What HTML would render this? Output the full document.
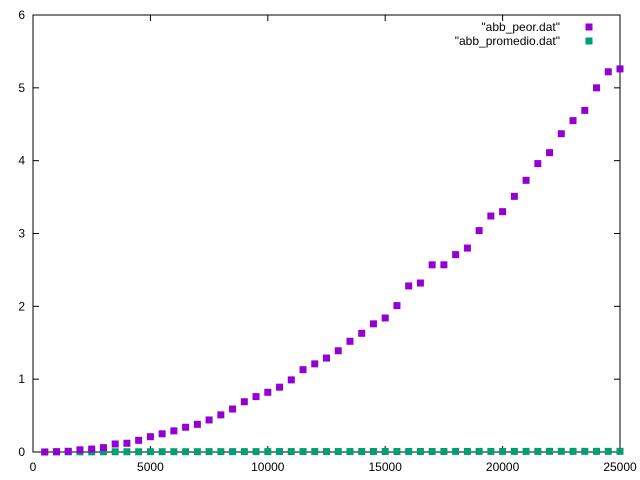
<!DOCTYPE html>
<html><head><meta charset="utf-8"><style>
body{margin:0;background:#fff;}
svg{display:block;font-family:"Liberation Sans",sans-serif;font-size:12px;}
</style></head><body>
<svg id="chart" width="640" height="480" xmlns="http://www.w3.org/2000/svg"></svg>
<script>
const xValues=[500,1000,1500,2000,2500,3000,3500,4000,4500,5000,5500,6000,6500,7000,7500,8000,8500,9000,9500,10000,10500,11000,11500,12000,12500,13000,13500,14000,14500,15000,15500,16000,16500,17000,17500,18000,18500,19000,19500,20000,20500,21000,21500,22000,22500,23000,23500,24000,24500,25000];
const peorValues=[0.0,0.005,0.01,0.03,0.04,0.06,0.11,0.12,0.16,0.21,0.25,0.29,0.34,0.38,0.44,0.51,0.59,0.69,0.76,0.82,0.89,0.99,1.13,1.21,1.29,1.39,1.52,1.63,1.76,1.84,2.01,2.28,2.32,2.57,2.57,2.71,2.80,3.04,3.24,3.30,3.51,3.73,3.96,4.11,4.37,4.55,4.69,5.00,5.22,5.26];
const promedioValues=[0.001,0.001,0.002,0.002,0.002,0.003,0.003,0.003,0.003,0.004,0.004,0.004,0.004,0.004,0.005,0.005,0.005,0.005,0.005,0.005,0.006,0.006,0.006,0.006,0.006,0.006,0.006,0.007,0.007,0.007,0.007,0.007,0.007,0.007,0.007,0.008,0.008,0.008,0.008,0.008,0.008,0.008,0.008,0.009,0.009,0.009,0.009,0.009,0.009,0.009];
const xTicks=[0,5000,10000,15000,20000,25000];
const yTicks=[0,1,2,3,4,5,6];
const NS="http://www.w3.org/2000/svg";
const svg=document.getElementById('chart');
const L=33,R=620,T=15,B=452;
const xs=v=>L+(v/25000)*(R-L);
const ys=v=>B-(v/6)*(B-T);
function mk(tag,attrs,parent){const e=document.createElementNS(NS,tag);for(const k in attrs)e.setAttribute(k,attrs[k]);(parent||svg).appendChild(e);return e;}
const frame=mk('rect',{x:L,y:T,width:R-L,height:B-T,fill:'none',stroke:'#000','stroke-width':1});


xTicks.forEach(t=>{
  const x=xs(t);
  const l1=mk('line',{x1:x,x2:x,y1:B,y2:B-6,stroke:'#000'});
  
  
  const l2=mk('line',{x1:x,x2:x,y1:T,y2:T+6,stroke:'#000'});
  
  
  const tx=mk('text',{x:x,y:B+19,'text-anchor':'middle'});tx.textContent=t;
  
  
});
yTicks.forEach(t=>{
  const y=ys(t);
  const l1=mk('line',{x1:L,x2:L+6,y1:y,y2:y,stroke:'#000'});
  
  
  const l2=mk('line',{x1:R,x2:R-6,y1:y,y2:y,stroke:'#000'});
  
  
  const tx=mk('text',{x:L-8,y:y+4,'text-anchor':'end'});tx.textContent=t;
  
  
});
function pt(x,y,c,name){const r=mk('rect',{x:x-3.5,y:y-3.5,width:7,height:7,fill:c});
  
  }
xValues.forEach((v,i)=>pt(xs(v),ys(promedioValues[i]),'#009e73','point-promedio'));
xValues.forEach((v,i)=>pt(xs(v),ys(peorValues[i]),'#9400d3','point-peor'));
const lg1=mk('text',{x:560,y:31,'text-anchor':'end'});lg1.textContent='"abb_peor.dat"';


pt(589,27,'#9400d3','legend-marker-peor');
const lg2=mk('text',{x:560,y:45,'text-anchor':'end'});lg2.textContent='"abb_promedio.dat"';


pt(589,41,'#009e73','legend-marker-promedio');
</script>
</body></html>
